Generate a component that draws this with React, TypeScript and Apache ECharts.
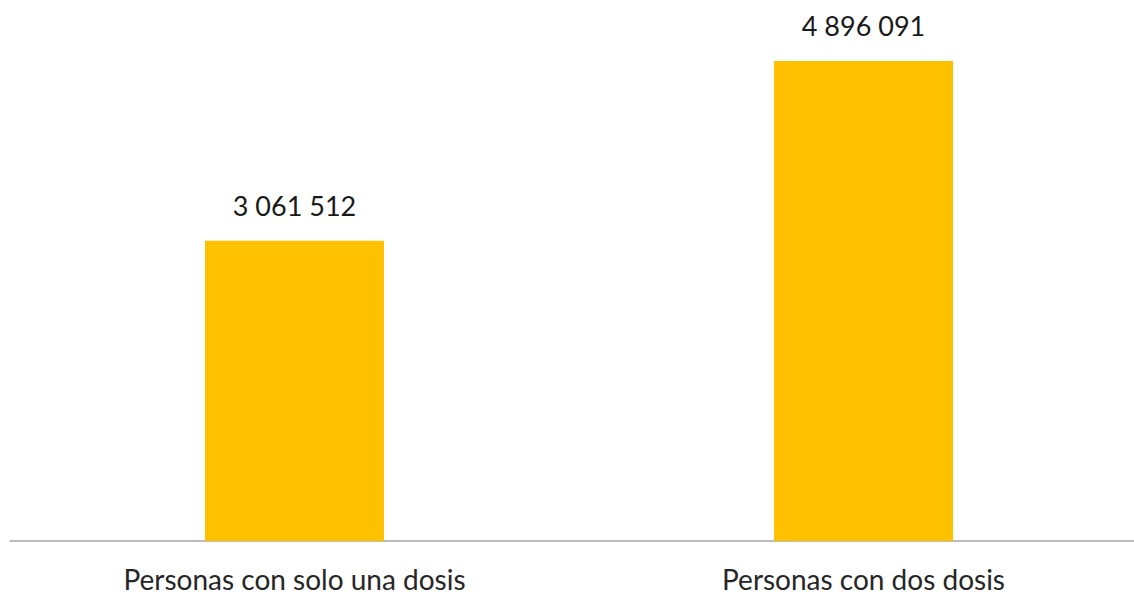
import React, { useEffect, useRef } from "react";
import * as echarts from "echarts";

const categories = ["Personas con solo una dosis", "Personas con dos dosis"];
const values = [3061512, 4896091];

function fmt(v: number): string {
  return String(Math.round(v)).replace(/\B(?=(\d{3})+(?!\d))/g, " ");
}

export default function App() {
  const ref = useRef<HTMLDivElement>(null);
  useEffect(() => {
    if (!ref.current) return;
    const chart = echarts.init(ref.current, null, { renderer: "svg" });
    chart.setOption({
      animation: false,
      backgroundColor: "#ffffff",
      grid: { left: 10, right: 0, top: 50.8, height: 490.2, containLabel: false },
      xAxis: {
        type: "category",
        data: categories,
        axisLine: { show: true, lineStyle: { color: "#a6a6a6", width: 1.5 } },
        axisTick: { show: false },
        axisLabel: {
          color: "#262626",
          fontFamily: "Lato",
          fontSize: 28,
          lineHeight: 28,
          margin: 24,
          interval: 0,
        },
      },
      yAxis: {
        type: "value",
        min: 0,
        max: 5000000,
        show: false,
        splitLine: { show: false },
      },
      series: [
        {
          type: "bar",
          data: values,
          barWidth: 179,
          itemStyle: { color: "#ffc000" },
          label: {
            show: true,
            position: "top",
            distance: 22,
            color: "#1a1a1a",
            fontFamily: "Lato",
            fontSize: 27,
            formatter: (p: any) => fmt(p.value),
          },
        },
      ],
    });
    return () => chart.dispose();
  }, []);
  return (
    <div
      ref={ref}
      style={{ position: "fixed", left: 0, top: 0, width: 1148, height: 596 }}
    />
  );
}
